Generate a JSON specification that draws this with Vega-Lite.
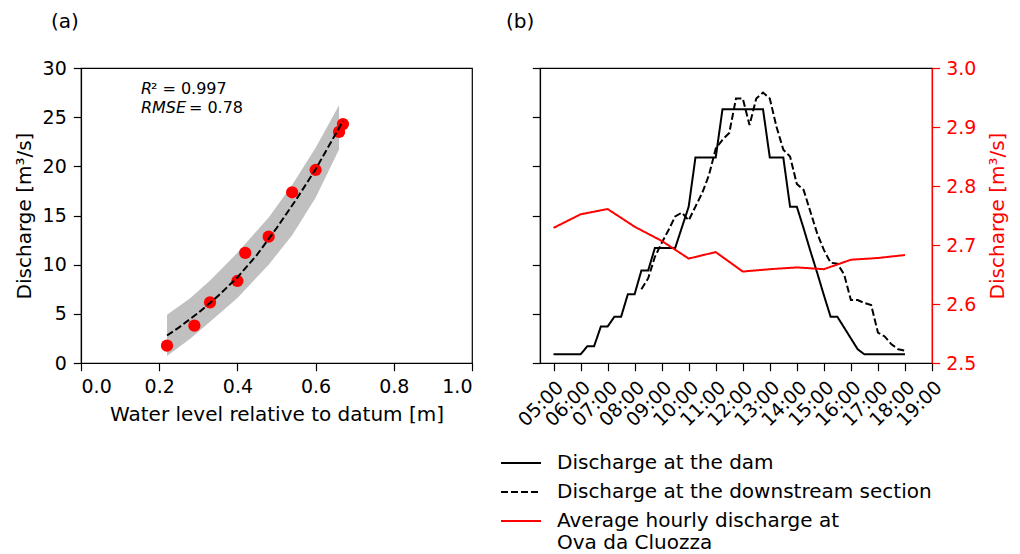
{
  "$schema": "https://vega.github.io/schema/vega-lite/v6.json",
  "padding": {"left": 13, "top": 11, "right": 5, "bottom": 5},
  "config": {
    "font": "DejaVu Sans",
    "view": {"stroke": "black", "strokeWidth": 1.2},
    "axis": {"labelFont": "DejaVu Sans", "titleFont": "DejaVu Sans", "labelFontSize": 19, "titleFontSize": 20, "titleFontWeight": "normal", "labelColor": "black", "titleColor": "black", "tickColor": "black", "domainColor": "black", "tickSize": 7.7, "tickWidth": 1.2, "domainWidth": 1.2, "grid": false, "labelPadding": 7, "titlePadding": 8, "labelOverlap": false},
    "title": {"font": "DejaVu Sans", "fontSize": 20, "fontWeight": "normal", "anchor": "start", "frame": "group", "baseline": "alphabetic", "color": "black"},
    "legend": {"labelFont": "DejaVu Sans", "labelFontSize": 20, "labelColor": "black", "labelLimit": 600}
  },
  "datasets": {
    "obs": [{"h":0.22,"q":1.76},{"h":0.29,"q":3.8},{"h":0.33,"q":6.17},{"h":0.40,"q":8.34},{"h":0.42,"q":11.2},{"h":0.48,"q":12.85},{"h":0.54,"q":17.36},{"h":0.60,"q":19.63},{"h":0.66,"q":23.5},{"h":0.67,"q":24.3}],
    "fit": [{"h":0.22,"q":2.8},{"h":0.25,"q":3.6},{"h":0.30,"q":5.1},{"h":0.35,"q":6.8},{"h":0.40,"q":8.7},{"h":0.45,"q":11.0},{"h":0.50,"q":13.7},{"h":0.55,"q":16.6},{"h":0.60,"q":19.7},{"h":0.65,"q":23.2},{"h":0.67,"q":24.6}],
    "band": [{"h":0.22,"lo":0.7,"hi":4.9},{"h":0.28,"lo":2.5,"hi":6.6},{"h":0.33,"lo":4.2,"hi":8.4},{"h":0.40,"lo":6.6,"hi":11.2},{"h":0.48,"lo":10.0,"hi":14.8},{"h":0.54,"lo":13.0,"hi":18.1},{"h":0.60,"lo":16.8,"hi":21.9},{"h":0.66,"lo":21.7,"hi":26.2}],
    "ann": [{"h":0.1532,"q":27.83,"it":"R","rest":"² = 0.997"},{"h":0.1532,"q":25.96,"it":"RMSE","rest":"= 0.78"}],
    "black": [
      {"t":5,"q":0.88,"series":"Discharge at the dam"},{"t":5.25,"q":0.88,"series":"Discharge at the dam"},{"t":5.5,"q":0.88,"series":"Discharge at the dam"},{"t":5.75,"q":0.88,"series":"Discharge at the dam"},{"t":6,"q":0.88,"series":"Discharge at the dam"},{"t":6.25,"q":1.7,"series":"Discharge at the dam"},{"t":6.5,"q":1.7,"series":"Discharge at the dam"},{"t":6.75,"q":3.7,"series":"Discharge at the dam"},{"t":7,"q":3.7,"series":"Discharge at the dam"},{"t":7.25,"q":4.7,"series":"Discharge at the dam"},{"t":7.5,"q":4.7,"series":"Discharge at the dam"},{"t":7.75,"q":7.0,"series":"Discharge at the dam"},{"t":8,"q":7.0,"series":"Discharge at the dam"},{"t":8.25,"q":9.4,"series":"Discharge at the dam"},{"t":8.5,"q":9.4,"series":"Discharge at the dam"},{"t":8.75,"q":11.7,"series":"Discharge at the dam"},{"t":9,"q":11.7,"series":"Discharge at the dam"},{"t":9.25,"q":11.7,"series":"Discharge at the dam"},{"t":9.5,"q":11.7,"series":"Discharge at the dam"},{"t":9.75,"q":13.8,"series":"Discharge at the dam"},{"t":10,"q":15.9,"series":"Discharge at the dam"},{"t":10.25,"q":20.9,"series":"Discharge at the dam"},{"t":10.5,"q":20.9,"series":"Discharge at the dam"},{"t":10.75,"q":20.9,"series":"Discharge at the dam"},{"t":11,"q":20.9,"series":"Discharge at the dam"},{"t":11.25,"q":25.8,"series":"Discharge at the dam"},{"t":11.5,"q":25.8,"series":"Discharge at the dam"},{"t":11.75,"q":25.8,"series":"Discharge at the dam"},{"t":12,"q":25.8,"series":"Discharge at the dam"},{"t":12.25,"q":25.8,"series":"Discharge at the dam"},{"t":12.5,"q":25.8,"series":"Discharge at the dam"},{"t":12.75,"q":25.8,"series":"Discharge at the dam"},{"t":13,"q":20.9,"series":"Discharge at the dam"},{"t":13.25,"q":20.9,"series":"Discharge at the dam"},{"t":13.5,"q":20.9,"series":"Discharge at the dam"},{"t":13.75,"q":15.9,"series":"Discharge at the dam"},{"t":14,"q":15.9,"series":"Discharge at the dam"},{"t":14.25,"q":13.7,"series":"Discharge at the dam"},{"t":14.5,"q":11.4,"series":"Discharge at the dam"},{"t":14.75,"q":9.2,"series":"Discharge at the dam"},{"t":15,"q":6.9,"series":"Discharge at the dam"},{"t":15.25,"q":4.7,"series":"Discharge at the dam"},{"t":15.5,"q":4.7,"series":"Discharge at the dam"},{"t":15.75,"q":3.6,"series":"Discharge at the dam"},{"t":16,"q":2.5,"series":"Discharge at the dam"},{"t":16.25,"q":1.4,"series":"Discharge at the dam"},{"t":16.5,"q":0.88,"series":"Discharge at the dam"},{"t":16.75,"q":0.88,"series":"Discharge at the dam"},{"t":17,"q":0.88,"series":"Discharge at the dam"},{"t":17.25,"q":0.88,"series":"Discharge at the dam"},{"t":17.5,"q":0.88,"series":"Discharge at the dam"},{"t":17.75,"q":0.88,"series":"Discharge at the dam"},{"t":18,"q":0.88,"series":"Discharge at the dam"},
      {"t":8.25,"q":7.5,"series":"Discharge at the downstream section"},{"t":8.5,"q":8.6,"series":"Discharge at the downstream section"},{"t":8.75,"q":10.8,"series":"Discharge at the downstream section"},{"t":9,"q":12.2,"series":"Discharge at the downstream section"},{"t":9.25,"q":13.5,"series":"Discharge at the downstream section"},{"t":9.5,"q":14.9,"series":"Discharge at the downstream section"},{"t":9.75,"q":15.3,"series":"Discharge at the downstream section"},{"t":10,"q":14.5,"series":"Discharge at the downstream section"},{"t":10.25,"q":15.9,"series":"Discharge at the downstream section"},{"t":10.5,"q":17.3,"series":"Discharge at the downstream section"},{"t":10.75,"q":19.1,"series":"Discharge at the downstream section"},{"t":11,"q":21.8,"series":"Discharge at the downstream section"},{"t":11.25,"q":22.7,"series":"Discharge at the downstream section"},{"t":11.5,"q":23.4,"series":"Discharge at the downstream section"},{"t":11.75,"q":26.9,"series":"Discharge at the downstream section"},{"t":12,"q":26.9,"series":"Discharge at the downstream section"},{"t":12.25,"q":24.2,"series":"Discharge at the downstream section"},{"t":12.5,"q":26.9,"series":"Discharge at the downstream section"},{"t":12.75,"q":27.5,"series":"Discharge at the downstream section"},{"t":13,"q":26.9,"series":"Discharge at the downstream section"},{"t":13.25,"q":24.0,"series":"Discharge at the downstream section"},{"t":13.5,"q":21.7,"series":"Discharge at the downstream section"},{"t":13.75,"q":21.0,"series":"Discharge at the downstream section"},{"t":14,"q":18.2,"series":"Discharge at the downstream section"},{"t":14.25,"q":17.6,"series":"Discharge at the downstream section"},{"t":14.5,"q":15.4,"series":"Discharge at the downstream section"},{"t":14.75,"q":13.2,"series":"Discharge at the downstream section"},{"t":15,"q":11.5,"series":"Discharge at the downstream section"},{"t":15.25,"q":10.2,"series":"Discharge at the downstream section"},{"t":15.5,"q":10.1,"series":"Discharge at the downstream section"},{"t":15.75,"q":9.0,"series":"Discharge at the downstream section"},{"t":16,"q":6.4,"series":"Discharge at the downstream section"},{"t":16.25,"q":6.4,"series":"Discharge at the downstream section"},{"t":16.5,"q":6.1,"series":"Discharge at the downstream section"},{"t":16.75,"q":5.9,"series":"Discharge at the downstream section"},{"t":17,"q":3.1,"series":"Discharge at the downstream section"},{"t":17.25,"q":2.7,"series":"Discharge at the downstream section"},{"t":17.5,"q":1.9,"series":"Discharge at the downstream section"},{"t":17.75,"q":1.4,"series":"Discharge at the downstream section"},{"t":18,"q":1.25,"series":"Discharge at the downstream section"}
    ],
    "red": [
      {"t":5,"q":2.729,"series":"Average hourly discharge at|Ova da Cluozza"},{"t":6,"q":2.752,"series":"Average hourly discharge at|Ova da Cluozza"},{"t":7,"q":2.761,"series":"Average hourly discharge at|Ova da Cluozza"},{"t":8,"q":2.731,"series":"Average hourly discharge at|Ova da Cluozza"},{"t":9,"q":2.707,"series":"Average hourly discharge at|Ova da Cluozza"},{"t":10,"q":2.677,"series":"Average hourly discharge at|Ova da Cluozza"},{"t":11,"q":2.688,"series":"Average hourly discharge at|Ova da Cluozza"},{"t":12,"q":2.655,"series":"Average hourly discharge at|Ova da Cluozza"},{"t":13,"q":2.659,"series":"Average hourly discharge at|Ova da Cluozza"},{"t":14,"q":2.662,"series":"Average hourly discharge at|Ova da Cluozza"},{"t":15,"q":2.659,"series":"Average hourly discharge at|Ova da Cluozza"},{"t":16,"q":2.675,"series":"Average hourly discharge at|Ova da Cluozza"},{"t":17,"q":2.678,"series":"Average hourly discharge at|Ova da Cluozza"},{"t":18,"q":2.683,"series":"Average hourly discharge at|Ova da Cluozza"}
    ]
  },
  "bounds": "flush",
  "spacing": 68,
  "hconcat": [
    {
      "width": 391,
      "height": 295,
      "title": {"text": "(a)", "dx": -30, "offset": 27},
      "layer": [
        {
          "data": {"name": "band"},
          "mark": {"type": "area", "color": "#c0c0c0", "opacity": 1},
          "encoding": {
            "x": {"field": "h", "type": "quantitative", "scale": {"domain": [0, 1]}, "axis": {"values": [0, 0.2, 0.4, 0.6, 0.8, 1.0], "format": ".1f", "title": "Water level relative to datum [m]"}},
            "y": {"field": "hi", "type": "quantitative", "scale": {"domain": [0, 30]}, "axis": {"values": [0, 5, 10, 15, 20, 25, 30], "title": "Discharge [m³/s]"}},
            "y2": {"field": "lo"}
          }
        },
        {
          "data": {"name": "obs"},
          "mark": {"type": "circle", "color": "#ff0000", "opacity": 1, "size": 150},
          "encoding": {
            "x": {"field": "h", "type": "quantitative"},
            "y": {"field": "q", "type": "quantitative"}
          }
        },
        {
          "data": {"name": "fit"},
          "mark": {"type": "line", "color": "black", "strokeDash": [7, 3], "strokeWidth": 2},
          "encoding": {
            "x": {"field": "h", "type": "quantitative"},
            "y": {"field": "q", "type": "quantitative"}
          }
        },
        {
          "data": {"name": "ann"},
          "mark": {"type": "text", "font": "DejaVu Sans", "fontSize": 16, "fontStyle": "italic", "align": "left", "baseline": "middle", "color": "black"},
          "encoding": {
            "x": {"field": "h", "type": "quantitative"},
            "y": {"field": "q", "type": "quantitative"},
            "text": {"field": "it"}
          }
        },
        {
          "data": {"name": "ann"},
          "transform": [{"filter": "datum.it == 'R'"}],
          "mark": {"type": "text", "font": "DejaVu Sans", "fontSize": 16, "align": "left", "baseline": "middle", "color": "black", "dx": 10},
          "encoding": {
            "x": {"field": "h", "type": "quantitative"},
            "y": {"field": "q", "type": "quantitative"},
            "text": {"field": "rest"}
          }
        },
        {
          "data": {"name": "ann"},
          "transform": [{"filter": "datum.it == 'RMSE'"}],
          "mark": {"type": "text", "font": "DejaVu Sans", "fontSize": 16, "align": "left", "baseline": "middle", "color": "black", "dx": 48},
          "encoding": {
            "x": {"field": "h", "type": "quantitative"},
            "y": {"field": "q", "type": "quantitative"},
            "text": {"field": "rest"}
          }
        }
      ]
    },
    {
      "width": 392,
      "height": 295,
      "title": {"text": "(b)", "dx": -34, "offset": 27},
      "encoding": {
        "x": {"field": "t", "type": "quantitative", "scale": {"domain": [4.5, 19]}, "axis": {"values": [5, 6, 7, 8, 9, 10, 11, 12, 13, 14, 15, 16, 17, 18, 19], "labelExpr": "(datum.value < 10 ? '0' : '') + datum.value + ':00'", "labelAngle": 315, "labelAlign": "right", "labelBaseline": "top", "labelOverlap": false, "labelBound": false, "labelFlush": false, "title": null}}
      },
      "layer": [
        {
          "data": {"name": "black"},
          "mark": {"type": "line", "strokeWidth": 2},
          "encoding": {
            "y": {"field": "q", "type": "quantitative", "scale": {"domain": [0, 30]}, "axis": {"values": [0, 5, 10, 15, 20, 25, 30], "labels": false, "title": null}},
            "color": {"field": "series", "type": "nominal", "scale": {"domain": ["Discharge at the dam", "Discharge at the downstream section", "Average hourly discharge at|Ova da Cluozza"], "range": ["black", "black", "#ff0000"]}, "legend": {"title": null, "orient": "none", "legendX": 429, "legendY": 384, "symbolType": "M-2,0H2", "symbolSize": 400, "symbolStrokeWidth": 2, "labelOffset": 25, "rowPadding": 8, "labelExpr": "split(datum.label, '|')"}},
            "strokeDash": {"field": "series", "type": "nominal", "scale": {"domain": ["Discharge at the dam", "Discharge at the downstream section", "Average hourly discharge at|Ova da Cluozza"], "range": [[1, 0], [7, 3], [1, 0]]}, "legend": {"title": null, "orient": "none", "legendX": 429, "legendY": 384, "symbolType": "M-2,0H2", "symbolSize": 400, "symbolStrokeWidth": 2, "labelOffset": 25, "rowPadding": 8, "labelExpr": "split(datum.label, '|')"}}
          }
        },
        {
          "data": {"name": "red"},
          "mark": {"type": "line", "strokeWidth": 2},
          "encoding": {
            "y": {"field": "q", "type": "quantitative", "scale": {"domain": [2.5, 3.0]}, "axis": {"orient": "right", "values": [2.5, 2.6, 2.7, 2.8, 2.9, 3.0], "format": ".1f", "title": "Discharge [m³/s]", "titleAngle": 270, "titleBaseline": "top", "labelColor": "#ff0000", "titleColor": "#ff0000", "tickColor": "#ff0000", "domainColor": "#ff0000", "labelPadding": 6, "titlePadding": 12}},
            "color": {"field": "series", "type": "nominal"},
            "strokeDash": {"field": "series", "type": "nominal"}
          }
        }
      ],
      "resolve": {"scale": {"y": "independent"}}
    }
  ]
}
